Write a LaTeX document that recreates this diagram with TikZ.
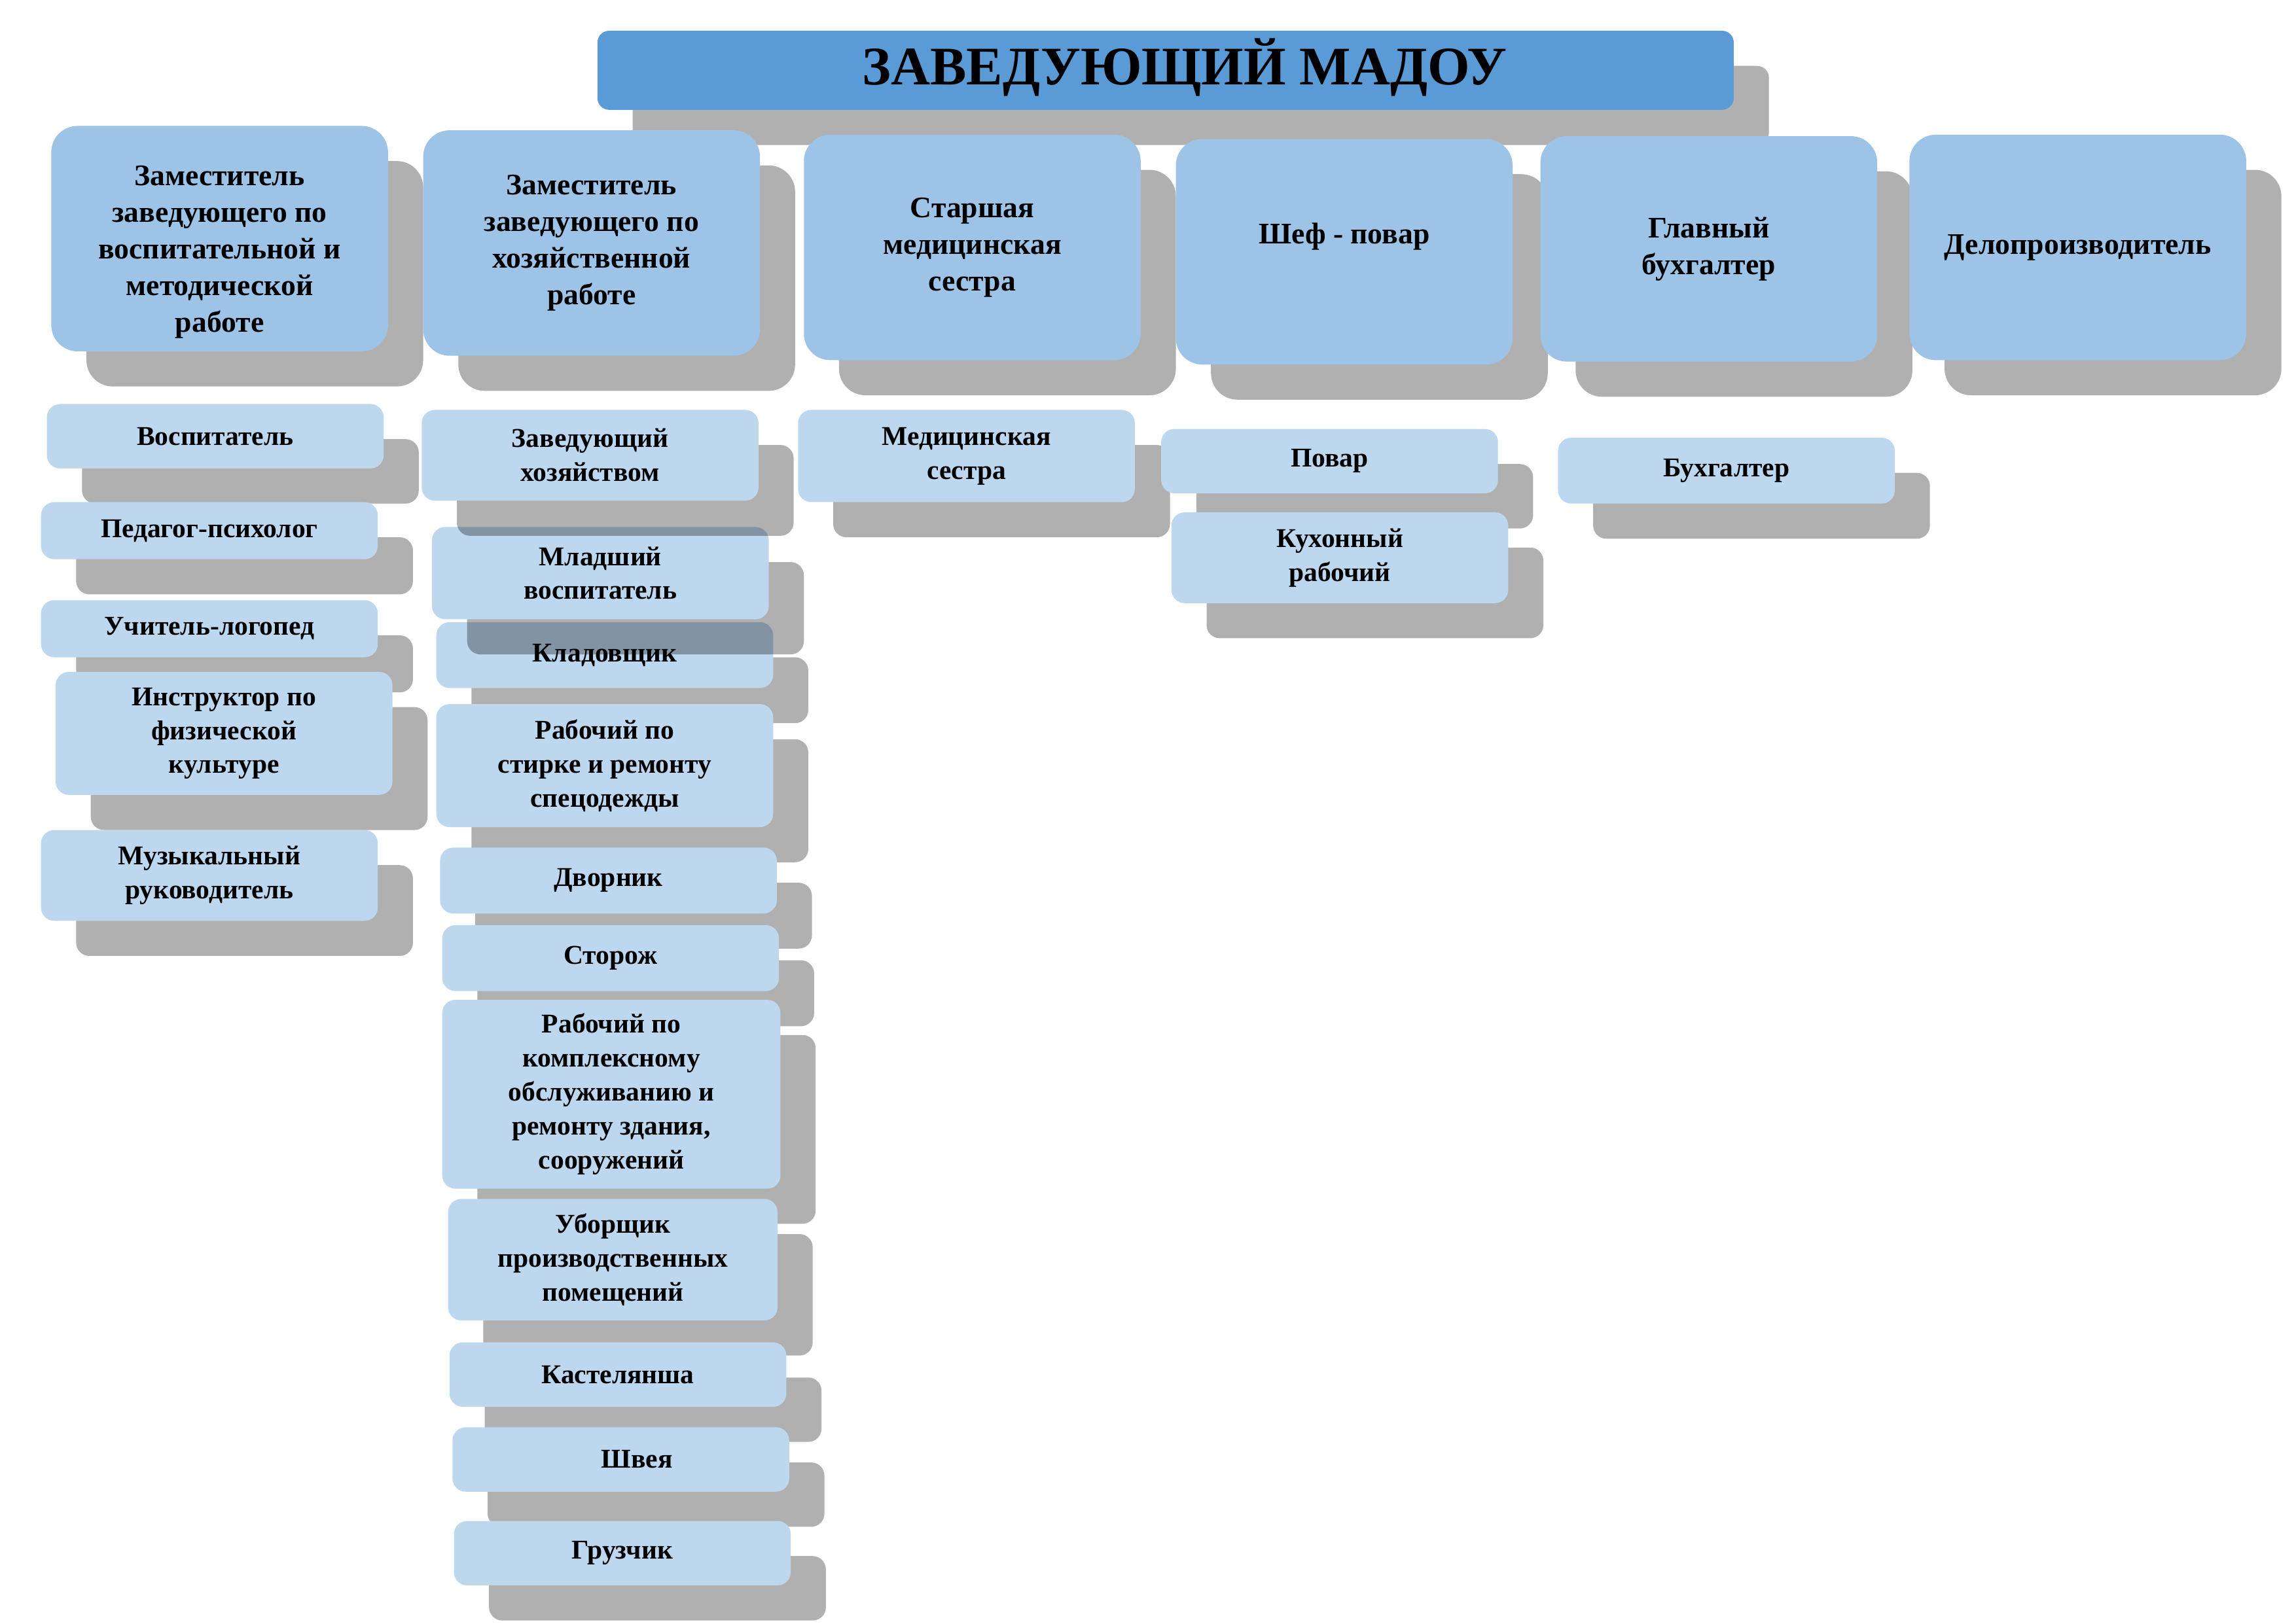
\documentclass[tikz,border=0pt]{standalone}
\usepackage{fontspec}
\setmainfont{Liberation Serif}
\usepackage{tikz}
\usetikzlibrary{shadows}

\definecolor{headblue}{HTML}{5B9BD5}
\definecolor{postblue}{HTML}{9DC3E6}
\definecolor{staffblue}{HTML}{BDD7EE}
\newlength{\ux}
\setlength{\ux}{0.01894cm}

\begin{document}
\begin{tikzpicture}[x=\ux, y=-\ux,
    shd/.style={drop shadow={shadow xshift=24\ux, shadow yshift=-24\ux, fill=black, opacity=.31}},
    head/.style={shd, fill=headblue, rounded corners=8\ux, minimum width=776\ux, minimum height=54\ux,
        inner sep=0pt, font=\fontsize{20}{24}\selectfont\bfseries},
    post/.style={shd, fill=postblue, rounded corners=18\ux, minimum width=230\ux, minimum height=154\ux,
        inner sep=0pt, align=center, font=\fontsize{11}{13.5}\selectfont\bfseries},
    staff/.style={shd, fill=staffblue, rounded corners=9\ux, minimum width=230\ux,
        inner sep=0pt, align=center, font=\fontsize{10}{12.5}\selectfont\bfseries}]
    \useasboundingbox (0,0) rectangle (1568,1109);

    % Head
    \node[head] (Z) at (796,48) {\hspace*{26\ux}ЗАВЕДУЮЩИЙ МАДОУ\raisebox{0pt}[0pt][12\ux]{}};

    % Deputies and chiefs
    \node[post] (T1) at (150,163) {\raisebox{0pt}[32\ux][0pt]{}Заместитель\\заведующего по\\воспитательной и\\методической\\работе};
    \node[post] (T2) at (404,166) {Заместитель\\заведующего по\\хозяйственной\\работе};
    \node[post] (T3) at (664,169) {Старшая\\медицинская\\сестра};
    \node[post] (T4) at (918,172) {Шеф - повар\\ \mbox{}};
    \node[post] (T5) at (1167,170) {Главный\\бухгалтер};
    \node[post] (T6) at (1419,169) {Делопроизводитель};

    % Teaching staff
    \node[staff, minimum height=44\ux] (V1) at (147,298) {Воспитатель};
    \node[staff, minimum height=39\ux] (V2) at (143,362.5) {Педагог-психолог};
    \node[staff, minimum height=39\ux] (V3) at (143,429.5) {Учитель-логопед};
    \node[staff, minimum height=84\ux] (V4) at (153,501) {Инструктор по\\физической\\культуре};
    \node[staff, minimum height=62\ux] (V5) at (143,598) {Музыкальный\\руководитель};

    % Service staff
    \node[staff, minimum height=45\ux] (H3) at (413,447.5) {Кладовщик};
    \node[staff, minimum height=63\ux] (H2) at (410,391.5) {Младший\\воспитатель};
    \node[staff, minimum height=62\ux] (H1) at (403,311) {Заведующий\\хозяйством};
    \node[staff, minimum height=84\ux] (H4) at (413,523) {Рабочий по\\стирке и ремонту\\спецодежды};
    \node[staff, minimum height=45\ux] (H5) at (415.5,601.5) {Дворник};
    \node[staff, minimum height=45\ux] (H6) at (417,654.5) {Сторож};
    \node[staff, minimum height=129\ux, minimum width=231\ux] (H7) at (417.5,747.5)
        {Рабочий по\\комплексному\\обслуживанию и\\ремонту здания,\\сооружений};
    \node[staff, minimum height=83\ux, minimum width=225\ux] (H8) at (418.5,860.5)
        {Уборщик\\производственных\\помещений};
    \node[staff, minimum height=44\ux] (H9) at (422,939) {Кастелянша};
    \node[staff, minimum height=44\ux] (H10) at (424,997) {\hspace*{22\ux}Швея};
    \node[staff, minimum height=44\ux] (H11) at (425,1061) {Грузчик};

    % Medical, kitchen, accounts
    \node[staff, minimum height=63\ux] (M1) at (660,311.5) {Медицинская\\сестра};
    \node[staff, minimum height=44\ux] (K1) at (908,315) {Повар};
    \node[staff, minimum height=62\ux] (K2) at (915,381) {Кухонный\\рабочий};
    \node[staff, minimum height=45\ux] (B1) at (1179,321.5) {Бухгалтер};

\end{tikzpicture}
\end{document}
